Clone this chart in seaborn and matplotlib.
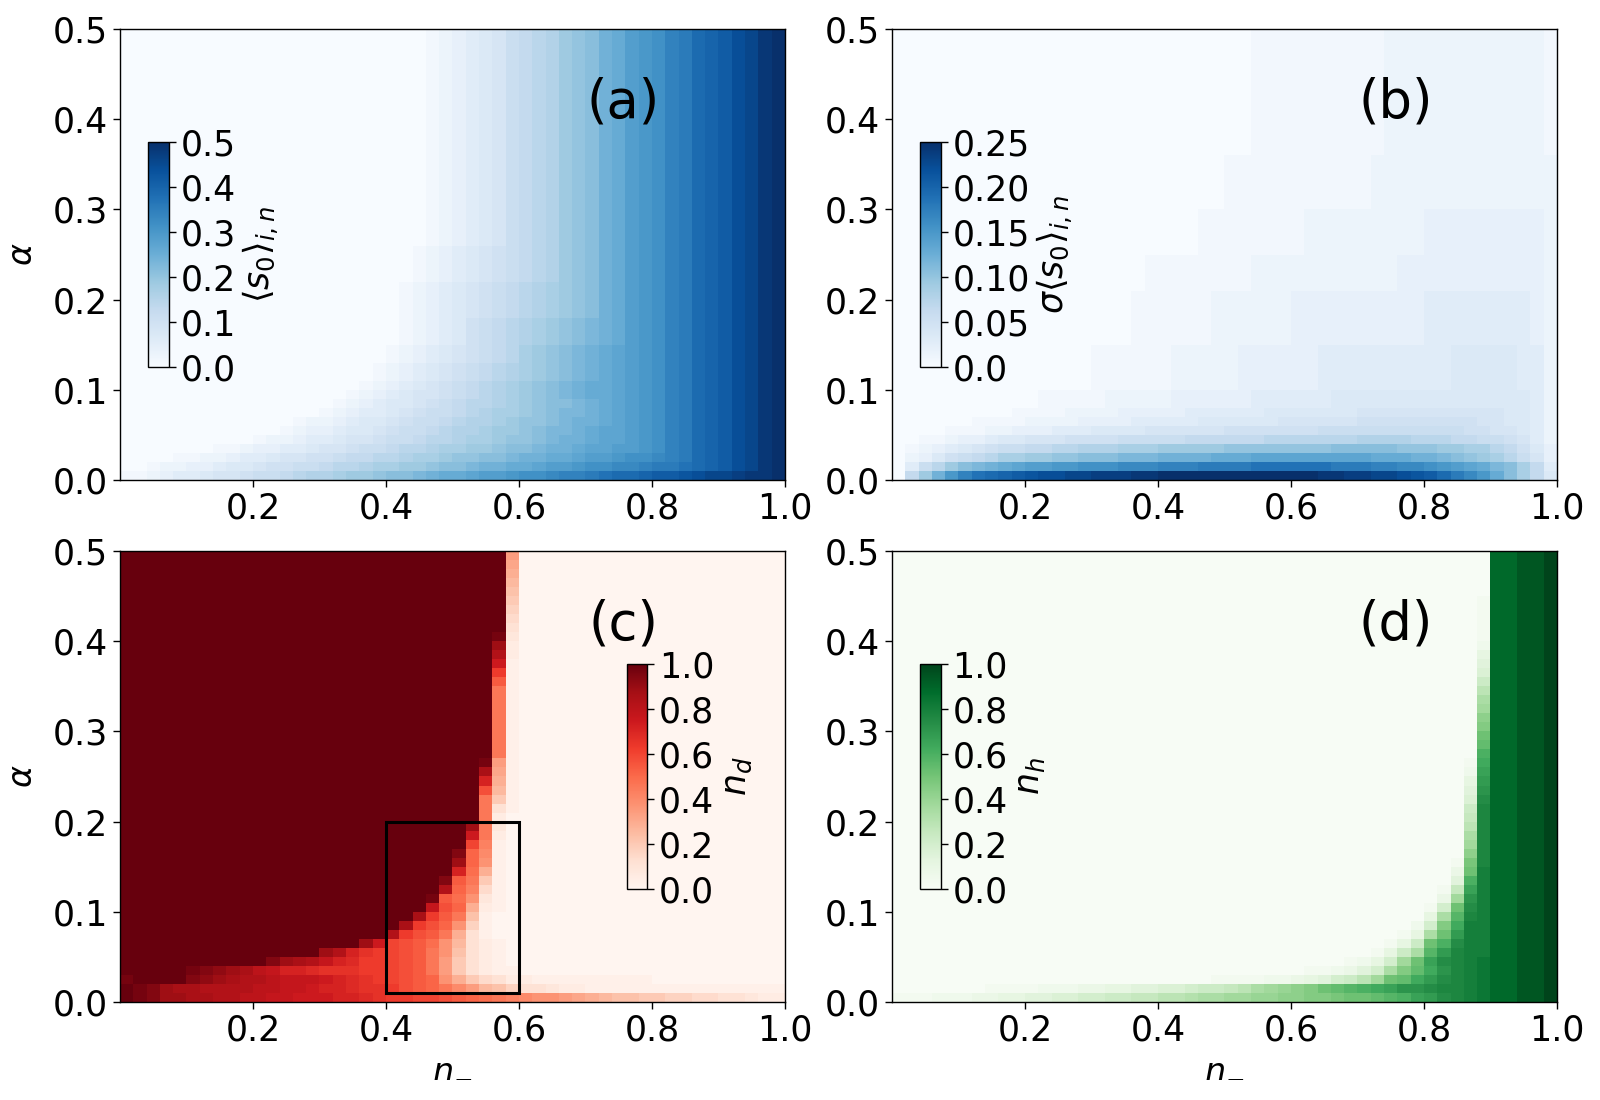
import numpy as np
import pandas as pd
import matplotlib
matplotlib.use("Agg")
import matplotlib.pyplot as plt
from matplotlib.patches import Rectangle
import seaborn as sns

# ---------------- grid description ----------------
N_STEP = 0.02          # width of one n_- cell
A_STEP = 0.01          # height of one alpha cell
A_MAX = 0.5
X_TICKS = [0.2, 0.4, 0.6, 0.8, 1.0]
Y_TICKS = [0.0, 0.1, 0.2, 0.3, 0.4, 0.5]

# cell values are written as level codes 0..z (36 levels, z = colour-scale maximum)
LEVEL_CODE = "0123456789abcdefghijklmnopqrstuvwxyz"

# ---------------- (a) <s0>_{i,n}  (rows listed from alpha=0.5 down to alpha=0) ----------------
A_VMAX = 0.5
A_ROWS = [
    (24, "0000000000" "0000000000" "0001234568" "9abdefhikl" "moprstvwyz"),
    (4,  "0000000000" "0000000000" "0012345678" "9abdefhikl" "moprstvwyz"),
    (4,  "0000000000" "0000000000" "0123456789" "abcdefhikl" "moprstvwyz"),
    (3,  "0000000000" "0000000000" "012345789a" "bcdefghikl" "moprstvwyz"),
    (2,  "0000000000" "0000000000" "123456789a" "cdefghijkl" "moprstvwyz"),
    (2,  "0000000000" "0000000001" "23456789ab" "cdefghijkl" "moprstvwyz"),
    (1,  "0000000000" "0000000012" "3456789abc" "defghiijkl" "moprstvwyz"),
    (1,  "0000000000" "0000000123" "4566789abc" "defghiijkl" "moprstvwyz"),
    (1,  "0000000000" "0000001234" "556789aabc" "deffghijkl" "moprstvwyz"),
    (1,  "0000000000" "0000012344" "567889abcc" "defgghijkl" "moprstvwyz"),
    (1,  "0000000000" "0001223455" "67889abbcd" "eefghhijkl" "moprstvwyz"),
    (1,  "0000000000" "0012334556" "7889abbcdd" "efgghijjkl" "moprstvwyz"),
    (1,  "0000000000" "1223445667" "889aabccde" "efghhijjkl" "moprstvwyz"),
    (1,  "0000000112" "3344566788" "9aabccddef" "fghhijjkkl" "moprstvwyz"),
    (1,  "0000112234" "456677899a" "abccdeeffg" "hhiijkklmm" "noprstvwyz"),
    (1,  "0012233455" "677889aabc" "cddeffghhi" "ijkklmmnno" "ppqrstvwyz"),
    (1,  "1123445667" "889abbcdde" "ffghiijkkl" "mmnoopqrrs" "ttuvwwxyyz"),
]

# ---------------- (b) sigma<s0>_{i,n} ----------------
B_VMAX = 0.25
B_ROWS = [
    (14, "0000000000" "0000000000" "0000000111" "1111111222" "2222222221"),
    (6,  "0000000000" "0000000000" "0000011111" "1111112222" "2222222222"),
    (5,  "0000000000" "0000000000" "0001111111" "1222222222" "3333333332"),
    (4,  "0000000000" "0000000001" "1111111222" "2222222233" "3333333332"),
    (6,  "0000000000" "0000000011" "1111222222" "3333333333" "4444444432"),
    (5,  "0000000000" "0000011111" "1222223333" "3344444444" "4455555442"),
    (2,  "0000000000" "0111112222" "2333333444" "4445555555" "5555555542"),
    (1,  "0000000001" "1112222333" "3344444455" "5555566666" "6666665542"),
    (1,  "0000001111" "2222333344" "4445555556" "6666677777" "7777665542"),
    (1,  "0000111223" "3344455556" "6666677777" "7788888888" "8887766542"),
    (1,  "0011233455" "6667777888" "88999999aa" "aaaaabbbba" "aa99887642"),
    (1,  "0123456788" "99aabbbccc" "dddddeeeee" "eeefffffee" "eddcca9753"),
    (1,  "0235789acc" "ddeefffggg" "hhhhiiijjj" "jjjjjjiiih" "hgfedca863"),
    (1,  "048adfghij" "kkllmmmnnn" "oooppppqqq" "qqqpppoonn" "mlkjigfc94"),
    (1,  "09dhloqrst" "uvvwwxxxyy" "zzzzzzzzzz" "zzyyxxwwvu" "trpnlifc95"),
]

# ---------------- (c) n_d ----------------
C_VMAX = 1.0
C_ROWS = [
    (1, "z" * 29 + "c" + "0" * 20),
    (1, "z" * 29 + "b" + "0" * 20),
    (1, "z" * 29 + "a" + "0" * 20),
    (1, "z" * 29 + "9" + "0" * 20),
    (1, "z" * 29 + "8" + "0" * 20),
    (1, "z" * 29 + "7" + "0" * 20),
    (1, "z" * 29 + "6" + "0" * 20),
    (1, "z" * 29 + "5" + "0" * 20),
    (1, "z" * 29 + "4" + "0" * 20),
    (1, "z" * 28 + "y3" + "0" * 20),
    (1, "z" * 28 + "v2" + "0" * 20),
    (1, "z" * 28 + "t2" + "0" * 20),
    (1, "z" * 28 + "q1" + "0" * 20),
    (1, "z" * 28 + "m1" + "0" * 20),
    (1, "z" * 28 + "j1" + "0" * 20),
    (8, "z" * 28 + "g1" + "0" * 20),
    (1, "z" * 27 + "yc1" + "0" * 20),
    (1, "z" * 27 + "ub1" + "0" * 20),
    (1, "z" * 27 + "pa1" + "0" * 20),
    (1, "z" * 27 + "k91" + "0" * 20),
    (1, "z" * 27 + "g71" + "0" * 20),
    (1, "z" * 27 + "g41" + "0" * 20),
    (1, "z" * 27 + "g20" + "0" * 20),
    (1, "z" * 26 + "vg30" + "0" * 20),
    (1, "z" * 26 + "qg20" + "0" * 20),
    (1, "z" * 26 + "lf10" + "0" * 20),
    (1, "z" * 25 + "xie10" + "0" * 20),
    (1, "z" * 25 + "vid10" + "0" * 20),
    (1, "z" * 25 + "pha10" + "0" * 20),
    (1, "z" * 24 + "xjg710" + "0" * 20),
    (1, "z" * 24 + "tif510" + "0" * 20),
    (1, "z" * 23 + "yjhd310" + "0" * 20),
    (1, "z" * 23 + "rkia210" + "0" * 20),
    (1, "z" * 22 + "umjg8100" + "0" * 20),
    (1, "z" * 21 + "umkid6100" + "0" * 20),
    (1, "z" * 20 + "tmkjga4100" + "0" * 20),
    (1, "z" * 18 + "vqlkjhd94210" + "0" * 20),
    (1, "z" * 15 + "vtpnmlkjgd84210" + "0" * 20),
    (1, "z" * 11 + "xvutrpommlkjgc74210" + "0" * 20),
    (1, "z" * 5 + "yxwvusrpponnnmmlkjgc74211" + "0" * 20),
    (1, "y" + "zzzz" + "xwvuttsrrr" + "qponmlkjid" + "a7542211" + "1111111" + "0000000000"),
    (1, "zyxvuutttt" "ssrrqpponn" "mkjigec986" "4432211111" "1111111111"),
    (1, "zyxvvuutts" "srrqqqppon" "mmllkjihgf" "eddcba9887" "7665544322"),
]

# ---------------- (d) n_h ----------------
D_VMAX = 1.0
D_EDGE = "vvxxz"   # the five right-most columns (n_- > 0.9)
D_ROWS = [
    (5, "0" * 45 + D_EDGE),
    (5, "0" * 44 + "1" + D_EDGE),
    (1, "0" * 44 + "2" + D_EDGE),
    (1, "0" * 44 + "4" + D_EDGE),
    (1, "0" * 44 + "5" + D_EDGE),
    (1, "0" * 44 + "6" + D_EDGE),
    (1, "0" * 44 + "8" + D_EDGE),
    (1, "0" * 44 + "a" + D_EDGE),
    (1, "0" * 44 + "c" + D_EDGE),
    (1, "0" * 44 + "d" + D_EDGE),
    (1, "0" * 44 + "f" + D_EDGE),
    (1, "0" * 44 + "g" + D_EDGE),
    (1, "0" * 44 + "i" + D_EDGE),
    (1, "0" * 44 + "j" + D_EDGE),
    (1, "0" * 44 + "l" + D_EDGE),
    (1, "0" * 43 + "1m" + D_EDGE),
    (1, "0" * 43 + "2n" + D_EDGE),
    (1, "0" * 43 + "4o" + D_EDGE),
    (1, "0" * 43 + "5p" + D_EDGE),
    (1, "0" * 43 + "6q" + D_EDGE),
    (1, "0" * 43 + "8r" + D_EDGE),
    (1, "0" * 43 + "9r" + D_EDGE),
    (1, "0" * 43 + "ar" + D_EDGE),
    (1, "0" * 43 + "cr" + D_EDGE),
    (1, "0" * 43 + "dr" + D_EDGE),
    (1, "0" * 43 + "fr" + D_EDGE),
    (1, "0" * 42 + "1hr" + D_EDGE),
    (1, "0" * 42 + "3is" + D_EDGE),
    (1, "0" * 42 + "5ls" + D_EDGE),
    (1, "0" * 41 + "19ns" + D_EDGE),
    (1, "0" * 41 + "3dps" + D_EDGE),
    (1, "0" * 40 + "17iqs" + D_EDGE),
    (1, "0" * 40 + "4ckrs" + D_EDGE),
    (1, "0" * 39 + "27gmss" + D_EDGE),
    (1, "0" * 38 + "14cioss" + D_EDGE),
    (1, "0" * 37 + "148ilqss" + D_EDGE),
    (1, "0" * 36 + "148ckorss" + D_EDGE),
    (1, "0" * 34 + "1247di" + "nqrst" + D_EDGE),
    (1, "0" * 31 + "112357cgj" + "mprst" + D_EDGE),
    (1, "0" * 24 + "111122" + "34578adijm" + "oqrst" + D_EDGE),
    (1, "0000000111" "1222334455" "667889acde" "fgijklmnpp" "qrrst" + D_EDGE),
    (1, "1112223344" "5566778899" "aabccddeef" "fgghiijkln" "oqrst" + D_EDGE),
]

# box drawn in panel (c): n_- range and alpha range
BOX_N = (0.4, 0.6)
BOX_A = (0.01, 0.2)

# ---------------- helpers ----------------
FS = 25
LABEL_FS = 24
TAG_FS = 38


def decode(rows, vmax):
    out = []
    for count, s in rows:
        assert len(s) == 50, (len(s), s)
        vals = [LEVEL_CODE.index(c) / 35.0 * vmax for c in s]
        out.extend([vals] * count)
    assert len(out) == 50, len(out)
    n_labels = [f"{N_STEP * (j + 1):.2f}" for j in range(50)]
    a_labels = [f"{A_MAX - A_STEP * i:.2f}" for i in range(50)]
    return pd.DataFrame(out, index=a_labels, columns=n_labels)


def panel(ax, df, cmap, vmax, cticks, cticklabels, clabel, cpos, tag,
          ylabel=None, xlabel=None):
    cax = ax.inset_axes(cpos)
    sns.heatmap(df, ax=ax, cmap=cmap, vmin=0, vmax=vmax, cbar_ax=cax,
                xticklabels=False, yticklabels=False)
    for sp in ax.spines.values():
        sp.set_visible(True)
        sp.set_linewidth(1.0)
        sp.set_color("black")
    ax.set_xticks([x / N_STEP for x in X_TICKS])
    ax.set_xticklabels([f"{x:.1f}" for x in X_TICKS], rotation=0, fontsize=FS)
    ax.set_yticks([(A_MAX - a) / A_STEP for a in Y_TICKS])
    ax.set_yticklabels([f"{a:.1f}" for a in Y_TICKS], rotation=0, fontsize=FS)
    ax.tick_params(axis="both", length=5, width=1, bottom=True, left=True)
    ax.set_xlabel(xlabel if xlabel else "", fontsize=LABEL_FS, labelpad=2)
    ax.set_ylabel(ylabel if ylabel else "", fontsize=LABEL_FS, labelpad=10)
    cb = ax.collections[0].colorbar
    cb.set_ticks(cticks)
    cb.set_ticklabels(cticklabels)
    cb.ax.tick_params(labelsize=FS, length=5, width=1)
    cb.set_label(clabel, fontsize=FS)
    cb.outline.set_visible(True)
    cb.outline.set_linewidth(1.0)
    cb.outline.set_edgecolor("black")
    ax.text(0.757, 0.837, tag, transform=ax.transAxes, fontsize=TAG_FS,
            ha="center", va="center")


fig = plt.figure(figsize=(16, 11), dpi=100)
W, H = 0.4156, 0.41
ax_a = fig.add_axes([0.075, 0.5636, W, H])
ax_b = fig.add_axes([0.5575, 0.5636, W, H])
ax_c = fig.add_axes([0.075, 0.0891, W, H])
ax_d = fig.add_axes([0.5575, 0.0891, W, H])

CB_LEFT = [0.042, 0.25, 0.031, 0.50]
CB_RIGHT = [0.762, 0.25, 0.031, 0.50]

panel(ax_a, decode(A_ROWS, A_VMAX), "Blues", A_VMAX,
      [0.0, 0.1, 0.2, 0.3, 0.4, 0.5], ["0.0", "0.1", "0.2", "0.3", "0.4", "0.5"],
      r"$\langle s_0\rangle_{i,n}$", CB_LEFT, "(a)", ylabel=r"$\alpha$")
panel(ax_b, decode(B_ROWS, B_VMAX), "Blues", B_VMAX,
      [0.0, 0.05, 0.10, 0.15, 0.20, 0.25], ["0.0", "0.05", "0.10", "0.15", "0.20", "0.25"],
      r"$\sigma\langle s_0\rangle_{i,n}$", CB_LEFT, "(b)")
panel(ax_c, decode(C_ROWS, C_VMAX), "Reds", C_VMAX,
      [0.0, 0.2, 0.4, 0.6, 0.8, 1.0], ["0.0", "0.2", "0.4", "0.6", "0.8", "1.0"],
      r"$n_d$", CB_RIGHT, "(c)", ylabel=r"$\alpha$", xlabel=r"$n_{-}$")
panel(ax_d, decode(D_ROWS, D_VMAX), "Greens", D_VMAX,
      [0.0, 0.2, 0.4, 0.6, 0.8, 1.0], ["0.0", "0.2", "0.4", "0.6", "0.8", "1.0"],
      r"$n_h$", CB_LEFT, "(d)", xlabel=r"$n_{-}$")

# rectangle in (c)
x0 = BOX_N[0] / N_STEP
x1 = BOX_N[1] / N_STEP
y_top = (A_MAX - BOX_A[1]) / A_STEP
y_bot = (A_MAX - BOX_A[0]) / A_STEP
ax_c.add_patch(Rectangle((x0, y_top), x1 - x0, y_bot - y_top, fill=False,
                         edgecolor="black", linewidth=2.2, zorder=5))

fig.savefig("out.png", dpi=100)
